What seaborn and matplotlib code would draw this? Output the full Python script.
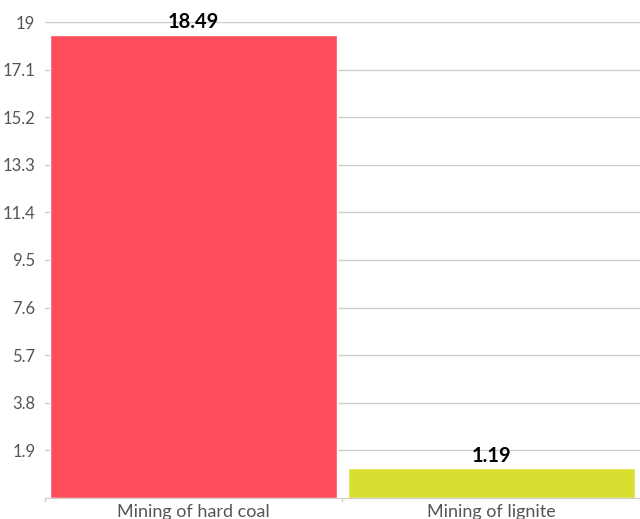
import matplotlib
matplotlib.use("Agg")
import matplotlib.pyplot as plt
import numpy as np
import pandas as pd
import seaborn as sns

categories = ["Mining of hard coal", "Mining of lignite"]
values = [18.49, 1.19]
colors = ["#FE4D5B", "#D9DF30"]
yticks = [1.9, 3.8, 5.7, 7.6, 9.5, 11.4, 13.3, 15.2, 17.1, 19]
ytick_labels = ["1.9", "3.8", "5.7", "7.6", "9.5", "11.4", "13.3", "15.2", "17.1", "19"]

df = pd.DataFrame({"category": categories, "value": values})

sns.set_style("white")
plt.rcParams["font.family"] = ["Lato", "DejaVu Sans"]

fig = plt.figure(figsize=(6.4, 5.19), dpi=100)
ax = fig.add_axes([0.0703, 0.0405, 0.9297, 0.9171])

sns.barplot(data=df, x="category", y="value", hue="category",
            palette=colors, width=0.965, saturation=1, legend=False, ax=ax, zorder=2)

ax.set_ylim(0, 19)
ax.set_xlim(-0.5, 1.5)
ax.set_yticks(yticks)
ax.set_yticklabels(ytick_labels)
ax.yaxis.grid(True, color="#cccccc", linewidth=1, zorder=0)
ax.set_axisbelow(True)
ax.tick_params(axis="y", length=5, color="#cccccc", labelsize=12, labelcolor="#555555", pad=2)
ax.tick_params(axis="x", length=0, labelsize=13, labelcolor="#555555", pad=4)

# boundary ticks between categories
for xb in [-0.5, 0.5, 1.5]:
    ax.plot([xb, xb], [0, -0.12], color="#cccccc", lw=1, clip_on=False)

for s in ["top", "right", "left"]:
    ax.spines[s].set_visible(False)
ax.spines["bottom"].set_color("#cccccc")
ax.set_xlabel("")
ax.set_ylabel("")

for i, v in enumerate(values):
    ax.text(i, v + 0.1, f"{v:.2f}", ha="center", va="bottom",
            fontsize=14.5, fontweight="bold", color="black")

fig.savefig("out.png", dpi=100)
